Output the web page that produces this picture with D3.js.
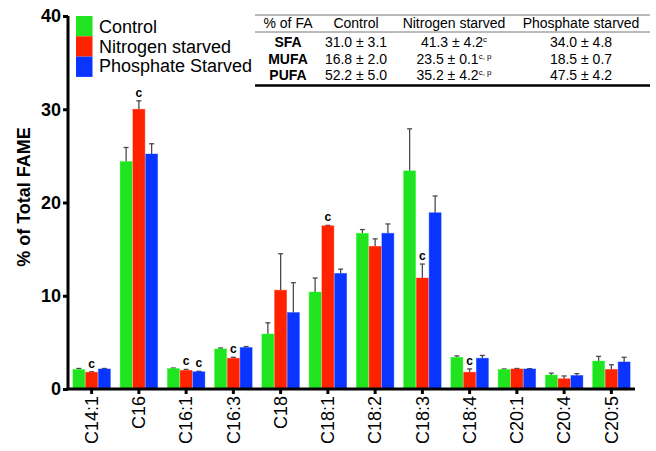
<!DOCTYPE html>
<html>
<head>
<meta charset="utf-8">
<script src="https://cdn.jsdelivr.net/npm/d3@7"></script>
<style>
  body{margin:0;background:#fff;font-family:Arial,"Liberation Sans",sans-serif}
  svg text{font-family:Arial,"Liberation Sans",sans-serif}
</style>
</head>
<body>
<svg id="chart" width="656" height="451"></svg>
<script>
const categories = ['C14:1','C16','C16:1','C16:3','C18','C18:1','C18:2','C18:3','C18:4','C20:1','C20:4','C20:5'];
const seriesNames = ['Control','Nitrogen starved','Phosphate Starved'];
const colors = ['#1fe41f','#ff2200','#0a34ff'];
const controlVals  = [2.1, 24.4, 2.2, 4.3, 5.9, 10.4, 16.7, 23.4, 3.4, 2.1, 1.5, 3.0];
const controlErr   = [0.1, 1.5, 0.05, 0.1, 1.2, 1.5, 0.4, 4.5, 0.15, 0.05, 0.2, 0.5];
const nitrogenVals = [1.8, 30.0, 2.0, 3.3, 10.6, 17.5, 15.3, 11.9, 1.8, 2.15, 1.1, 2.1];
const nitrogenErr  = [0.05, 0.9, 0.1, 0.1, 3.9, 0.05, 0.8, 1.5, 0.35, 0.05, 0.3, 0.5];
const phosphateVals= [2.15, 25.2, 1.85, 4.45, 8.2, 12.4, 16.7, 18.9, 3.3, 2.15, 1.45, 2.9];
const phosphateErr = [0.05, 1.1, 0.05, 0.1, 3.2, 0.45, 1.0, 1.8, 0.3, 0.03, 0.2, 0.5];
// significance marks: [category index, series index]
const sigMarks = [[0,1],[1,1],[2,1],[2,2],[3,1],[5,1],[7,1],[8,1]];
const yTicks = [0,10,20,30,40];

const tableHeader = ['% of FA','Control','Nitrogen starved','Phosphate starved'];
const tableRows = ['SFA','MUFA','PUFA'];
const tableControl = ['31.0 ± 3.1','16.8 ± 2.0','52.2 ± 5.0'];
const tableNitrogen = ['41.3 ± 4.2','23.5 ± 0.1','35.2 ± 4.2'];
const tableNitrogenSup = ['c','c, p','c, p'];
const tablePhosphate = ['34.0 ± 4.8','18.5 ± 0.7','47.5 ± 4.2'];

const vals = [controlVals, nitrogenVals, phosphateVals];
const errs = [controlErr, nitrogenErr, phosphateErr];

const svg = d3.select('#chart');
const plotL = 68, plotR = 635, plotT = 16, plotB = 389;

const x = d3.scaleBand().domain(categories).range([plotL, plotR]).padding(0);
const groupW = 37.5;
const x1 = d3.scaleBand().domain(d3.range(3)).range([-groupW/2, groupW/2]).paddingInner(0.06);
const y = d3.scaleLinear().domain([0,40]).range([plotB, plotT]);

// bars
const data = [];
categories.forEach((c,i)=>{
  for(let s=0;s<3;s++) data.push({c, i, s, v: vals[s][i], e: errs[s][i]});
});
const cx = d => x(d.c) + x.bandwidth()/2 + x1(d.s);

// error bars (drawn behind bars so only the upper half shows)
const eg = svg.append('g').attr('stroke','#4a4a4a').attr('stroke-width',1.3);
data.forEach(d=>{
  const mx = cx(d) + x1.bandwidth()/2;
  eg.append('line').attr('x1',mx).attr('x2',mx).attr('y1',y(d.v)).attr('y2',y(d.v + d.e));
  eg.append('line').attr('x1',mx-2.5).attr('x2',mx+2.5).attr('y1',y(d.v + d.e)).attr('y2',y(d.v + d.e));
});

svg.append('g').selectAll('rect').data(data).join('rect')
  .attr('x', d=>cx(d))
  .attr('y', d=>y(d.v))
  .attr('width', x1.bandwidth())
  .attr('height', d=>y(0)-y(d.v))
  .attr('fill', d=>colors[d.s])
  .attr('stroke', d=>d3.color(colors[d.s]).brighter(0.6))
  .attr('stroke-opacity',0.5)
  .attr('stroke-width',0.8);

// significance letters
svg.append('g').selectAll('text').data(sigMarks).join('text')
  .attr('x', d=>x(categories[d[0]]) + x.bandwidth()/2 + x1(d[1]) + x1.bandwidth()/2)
  .attr('y', d=>y(vals[d[1]][d[0]] + errs[d[1]][d[0]]) - 4)
  .attr('text-anchor','middle')
  .attr('font-size',12).attr('font-weight','bold')
  .text('c');

// y axis
const yAxis = svg.append('g').attr('transform',`translate(${plotL},0)`)
  .call(d3.axisLeft(y).tickValues(yTicks).tickSize(5).tickPadding(2));
yAxis.select('.domain').attr('d',`M0,${plotT}V${plotB}`).attr('stroke','#000').attr('stroke-width',3);
yAxis.selectAll('.tick line').attr('stroke','#000').attr('stroke-width',3);
yAxis.selectAll('.tick text').attr('font-size',18).attr('font-weight','bold').attr('fill','#000')
  .attr('font-family','Arial, "Liberation Sans", sans-serif');

// x axis
const xAxis = svg.append('g').attr('transform',`translate(0,${plotB})`)
  .call(d3.axisBottom(x).tickSize(5).tickSizeOuter(0));
xAxis.select('.domain').attr('d',`M${plotL-1.5},0H${plotR}`).attr('stroke','#000').attr('stroke-width',3);
xAxis.selectAll('.tick line').attr('stroke','#000').attr('stroke-width',3);
xAxis.selectAll('.tick text')
  .attr('font-size',18).attr('fill','#000')
  .attr('font-family','Arial, "Liberation Sans", sans-serif')
  .attr('text-anchor','end')
  .attr('transform','rotate(-90)')
  .attr('x',-7).attr('y',0).attr('dy','0.35em');

// y title
svg.append('text')
  .attr('transform','translate(30,197) rotate(-90)')
  .attr('text-anchor','middle')
  .attr('font-size',18).attr('font-weight','bold')
  .text('% of Total FAME');

// legend
const lg = svg.append('g');
seriesNames.forEach((n,i)=>{
  lg.append('rect').attr('x',76).attr('y',16 + i*20.3).attr('width',16.5).attr('height',20.3).attr('fill',colors[i]);
  lg.append('text').attr('x',99).attr('y',33 + i*19.7).attr('font-size',18).text(n);
});

// table
const tg = svg.append('g').attr('font-size',14);
const colX = [288, 356, 454, 581];
tg.append('line').attr('x1',255).attr('x2',650).attr('y1',15).attr('y2',15).attr('stroke','#777').attr('stroke-width',1);
tg.append('line').attr('x1',255).attr('x2',650).attr('y1',32).attr('y2',32).attr('stroke','#777').attr('stroke-width',1);
tg.append('line').attr('x1',255).attr('x2',650).attr('y1',85.5).attr('y2',85.5).attr('stroke','#000').attr('stroke-width',2.5);
tableHeader.forEach((h,j)=>{
  tg.append('text').attr('x',colX[j]).attr('y',28).attr('text-anchor','middle').text(h);
});
const rowY = [47, 63.5, 80];
tableRows.forEach((r,i)=>{
  tg.append('text').attr('x',colX[0]).attr('y',rowY[i]).attr('text-anchor','middle').attr('font-weight','bold').text(r);
  tg.append('text').attr('x',colX[1]).attr('y',rowY[i]).attr('text-anchor','middle').text(tableControl[i]);
  const t = tg.append('text').attr('x',colX[2]).attr('y',rowY[i]).attr('text-anchor','middle');
  t.append('tspan').text(tableNitrogen[i]);
  t.append('tspan').attr('font-size',8).attr('dy',-5).text(tableNitrogenSup[i]);
  tg.append('text').attr('x',colX[3]).attr('y',rowY[i]).attr('text-anchor','middle').text(tablePhosphate[i]);
});
</script>
</body>
</html>
